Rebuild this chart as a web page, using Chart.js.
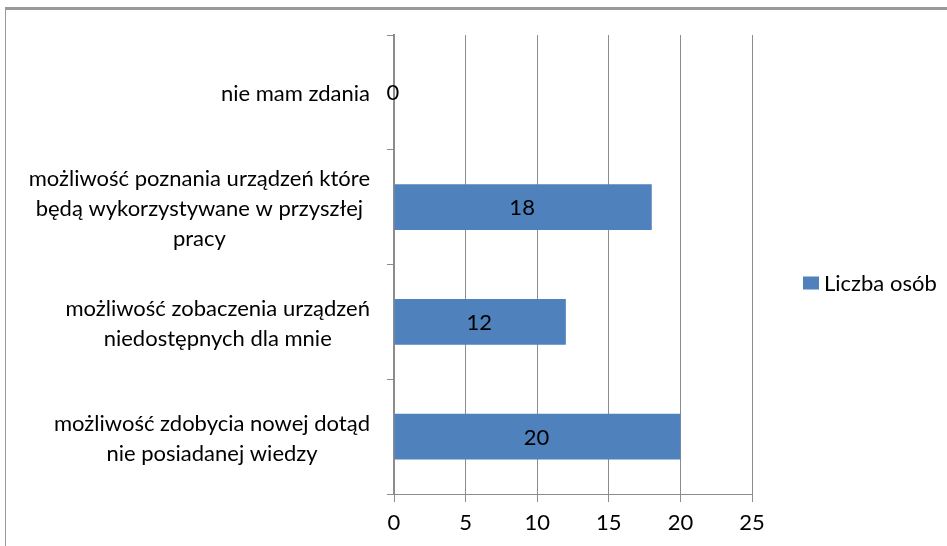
<!DOCTYPE html>
<html>
<head>
<meta charset="utf-8">
<script src="https://cdn.jsdelivr.net/npm/chart.js@4.4.1/dist/chart.umd.min.js"></script>
<style>
  html, body { margin: 0; padding: 0; background: #fff; }
  #frame { position: absolute; left: 5px; top: 7px; width: 960px; height: 560px; border-left: 1px solid #999; border-top: 3px solid #999; }
  #wrap { position: absolute; left: 0; top: 0; width: 947px; height: 546px; }
</style>
</head>
<body>
<div id="frame"></div>
<div id="wrap"><canvas id="chart"></canvas></div>
<script>
const categories = [
  ['nie mam zdania'],
  ['możliwość poznania urządzeń które', 'będą wykorzystywane w przyszłej', 'pracy'],
  ['możliwość zobaczenia urządzeń', 'niedostępnych dla mnie'],
  ['możliwość zdobycia nowej dotąd', 'nie posiadanej wiedzy']
];
const seriesName = 'Liczba osób';
const values = [0, 18, 12, 20];
const xTicks = [0, 5, 10, 15, 20, 25];

const FONT = 'Lato, "Liberation Sans", sans-serif';
const FSIZE = 22;
const LINE_H = 30;
const BAR = '#4f81bd';
const GRID = '#8c8c8c';

// category labels: each block right-aligned to the axis, lines centred inside the block
const catLabels = {
  id: 'catLabels',
  afterDraw(chart) {
    const ctx = chart.ctx;
    const y = chart.scales.y;
    const right = y.right - 24;
    ctx.save();
    ctx.font = FSIZE + 'px ' + FONT;
    ctx.fillStyle = '#000';
    ctx.textAlign = 'center';
    ctx.textBaseline = 'middle';
    categories.forEach((lines, i) => {
      const w = Math.max(...lines.map(l => ctx.measureText(l).width));
      const cx = right - w / 2;
      const cy = y.getPixelForTick(i) + 2;
      const y0 = cy - (lines.length - 1) * LINE_H / 2;
      lines.forEach((l, k) => ctx.fillText(l, cx, y0 + k * LINE_H));
    });
    ctx.restore();
  }
};

// value labels centred on each bar
const barLabels = {
  id: 'barLabels',
  afterDatasetsDraw(chart) {
    const ctx = chart.ctx;
    const meta = chart.getDatasetMeta(0);
    ctx.save();
    ctx.font = FSIZE + 'px ' + FONT;
    ctx.fillStyle = '#000';
    ctx.textAlign = 'center';
    ctx.textBaseline = 'middle';
    meta.data.forEach((bar, i) => {
      ctx.fillText(String(values[i]), (bar.x + bar.base) / 2 - 1, bar.y + 1);
    });
    ctx.restore();
  }
};

// legend to the right of the plot, a bit below its middle
const sideLegend = {
  id: 'sideLegend',
  afterDraw(chart) {
    const ctx = chart.ctx;
    const a = chart.chartArea;
    const x = a.right + 51;
    const y = (a.top + a.bottom) / 2 + 18;
    ctx.save();
    ctx.fillStyle = BAR;
    ctx.fillRect(x, y - 6, 16, 13);
    ctx.font = FSIZE + 'px ' + FONT;
    ctx.fillStyle = '#000';
    ctx.textAlign = 'left';
    ctx.textBaseline = 'middle';
    ctx.fillText(seriesName, x + 21, y + 1);
    ctx.restore();
  }
};

new Chart(document.getElementById('chart'), {
  type: 'bar',
  data: {
    labels: categories,
    datasets: [{ label: seriesName, data: values, backgroundColor: BAR, borderWidth: 0, categoryPercentage: 1, barPercentage: 0.4 }]
  },
  options: {
    indexAxis: 'y',
    responsive: true,
    maintainAspectRatio: false,
    animation: false,
    layout: { padding: { top: 35, left: 0, right: 195, bottom: 0 } },
    plugins: {
      legend: { display: false },
      tooltip: { enabled: false }
    },
    scales: {
      x: {
        min: 0, max: 25,
        afterBuildTicks: axis => { axis.ticks = xTicks.map(v => ({ value: v })); },
        afterFit: scale => { scale.height = 52; },
        grid: { color: GRID, tickLength: 8, tickColor: GRID },
        border: { color: GRID },
        ticks: { font: { family: FONT, size: FSIZE }, color: '#000', padding: 8 }
      },
      y: {
        afterFit: scale => { scale.width = 394; },
        grid: { drawOnChartArea: false, tickLength: 7, tickColor: GRID, offset: true },
        border: { color: GRID, width: 2 },
        ticks: { display: false }
      }
    }
  },
  plugins: [barLabels, sideLegend, catLabels]
});
</script>
</body>
</html>
